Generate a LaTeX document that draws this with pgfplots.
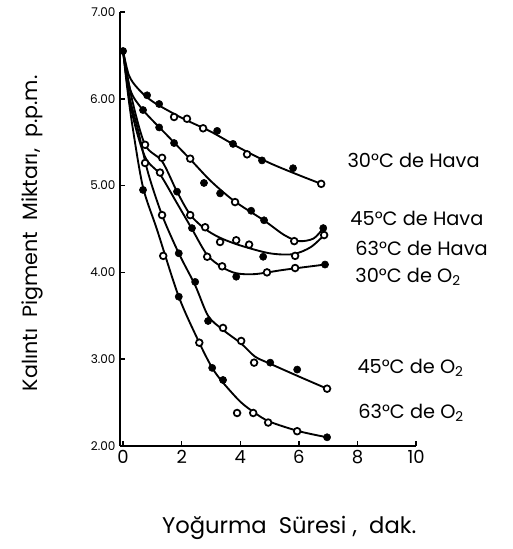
\documentclass[border=0pt]{standalone}
\usepackage{fontspec}
\setmainfont{Poppins}
\usepackage{pgfplots}
\pgfplotsset{compat=1.18}

\begin{document}
\begin{tikzpicture}
\pgfplotsset{
  curve/.style={black, smooth, tension=0.5, line width=1.4pt, no marks},
  openpt/.style={only marks, mark=*, mark size=2.5pt,
    mark options={fill=white, draw=black, line width=1.3pt}},
  fillpt/.style={only marks, mark=*, mark size=2.7pt,
    mark options={fill=black, draw=black}},
}
\begin{axis}[
    scale only axis,
    width=222pt, height=325.5pt,
    xmin=-0.1, xmax=10, ymin=2, ymax=7,
    axis lines*=left,
    axis line style={-, line width=1.4pt},
    xtick={0,2,4,6,8,10},
    ytick={2,3,4,5,6,7},
    major tick length=4pt,
    tick style={line width=1.1pt, black},
    /pgf/number format/assume math mode=true,
    yticklabel style={/pgf/number format/.cd, fixed, fixed zerofill, precision=2,
      /tikz/.cd, font=\fontsize{9}{10}\selectfont},
    xticklabel style={font=\fontsize{13.5}{15}\selectfont},
    xlabel={Yoğurma\ \ Süresi ,\ \ dak.},
    ylabel={Kalıntı\ \ Pigment\ \ Miktarı,\ \ p.p.m.},
    xlabel style={at={(axis description cs:0.571,-0.189)}, anchor=center,
      font=\fontsize{17}{19}\selectfont},
    ylabel style={at={(axis description cs:-0.297,0.49)}, anchor=center,
      font=\fontsize{15.5}{18}\selectfont},
    clip=false,
  ]
  % invisible frame: keeps the page at the reference proportions
  \path (axis cs:-4.20,0.813) rectangle (axis cs:13.28,7.138);

  % 30 C de Hava
  \addplot[curve] coordinates {(0,6.55)(0.2,6.27)(0.5,6.12)(1,5.97)(2,5.78)(3,5.62)(4,5.43)(5,5.26)(6,5.12)(6.76,5.02)};
  \addplot[fillpt] coordinates {(0,6.55)(0.82,6.04)(1.23,5.94)(3.21,5.63)(3.75,5.48)(4.74,5.29)(5.8,5.2)};
  \addplot[openpt] coordinates {(1.74,5.79)(2.18,5.77)(2.73,5.66)(4.23,5.36)(6.76,5.02)};

  % 45 C de Hava
  \addplot[curve] coordinates {(0,6.55)(0.25,6.1)(0.68,5.87)(1.5,5.58)(2.3,5.3)(3,5.05)(3.8,4.82)(4.8,4.6)(5.5,4.43)(6.0,4.36)(6.5,4.39)(6.83,4.51)};
  \addplot[fillpt] coordinates {(0.68,5.87)(1.23,5.67)(1.74,5.49)(2.76,5.03)(3.31,4.91)(4.37,4.71)(4.81,4.6)(6.83,4.51)};
  \addplot[openpt] coordinates {(2.29,5.31)(3.82,4.81)(5.84,4.36)};

  % 63 C de Hava
  \addplot[curve] coordinates {(0,6.55)(0.3,6.0)(0.75,5.47)(1.33,5.28)(1.84,4.93)(2.3,4.66)(2.8,4.5)(3.3,4.4)(4,4.31)(5,4.22)(5.8,4.21)(6.4,4.29)(6.86,4.43)};
  \addplot[fillpt] coordinates {(1.84,4.93)(4.78,4.18)};
  \addplot[openpt] coordinates {(0.75,5.47)(1.33,5.32)(2.29,4.66)(2.8,4.52)(3.31,4.35)(3.86,4.37)(4.3,4.32)(5.87,4.19)(6.86,4.43)};

  % 30 C de O2
  \addplot[curve] coordinates {(0,6.55)(0.3,5.85)(0.75,5.33)(1.26,5.13)(1.8,4.82)(2.35,4.5)(2.87,4.2)(3.38,4.06)(3.86,3.99)(4.5,3.98)(5.5,4.03)(6.89,4.09)};
  \addplot[fillpt] coordinates {(2.35,4.51)(3.86,3.95)(6.89,4.09)};
  \addplot[openpt] coordinates {(1.26,5.15)(2.87,4.18)(3.38,4.07)(4.91,4.0)(5.87,4.05)};

  % 45 C de O2
  \addplot[curve] coordinates {(0,6.55)(0.2,6.05)(0.51,5.64)(0.85,5.15)(1.33,4.66)(1.9,4.22)(2.46,3.85)(2.9,3.5)(3.4,3.34)(4.03,3.18)(4.5,3.03)(5,2.95)(6,2.8)(6.96,2.66)};
  \addplot[fillpt] coordinates {(1.9,4.22)(2.46,3.89)(2.9,3.44)(5.02,2.96)(5.94,2.88)};
  \addplot[openpt] coordinates {(0.75,5.26)(1.33,4.66)(3.41,3.36)(4.03,3.21)(4.47,2.96)(6.96,2.66)};

  % 63 C de O2
  \addplot[curve] coordinates {(0,6.55)(0.15,6.1)(0.34,5.64)(0.68,4.98)(1.16,4.49)(1.9,3.72)(2.6,3.19)(3.04,2.9)(3.41,2.73)(4,2.51)(4.5,2.38)(5,2.28)(6,2.17)(6.96,2.1)};
  \addplot[fillpt] coordinates {(0.68,4.95)(1.9,3.72)(3.04,2.9)(3.41,2.76)(6.96,2.1)};
  \addplot[openpt] coordinates {(1.37,4.19)(2.6,3.19)(3.89,2.38)(4.44,2.38)(4.95,2.27)(5.94,2.17)};

  % curve names
  \begin{scope}[every node/.style={anchor=west, font=\fontsize{14.5}{16}\selectfont, inner sep=0pt}]
    \node at (axis cs:7.65,5.295) {30°C\ de\ Hava};
    \node at (axis cs:7.75,4.627) {45°C\ de\ Hava};
    \node at (axis cs:7.92,4.28) {63°C\ de\ Hava};
    \node at (axis cs:7.92,3.947) {30°C\ de\ O\textsubscript{2}};
    \node at (axis cs:7.99,2.90) {45°C\ de\ O\textsubscript{2}};
    \node at (axis cs:8.02,2.38) {63°C\ de\ O\textsubscript{2}};
  \end{scope}
\end{axis}
\end{tikzpicture}
\end{document}
